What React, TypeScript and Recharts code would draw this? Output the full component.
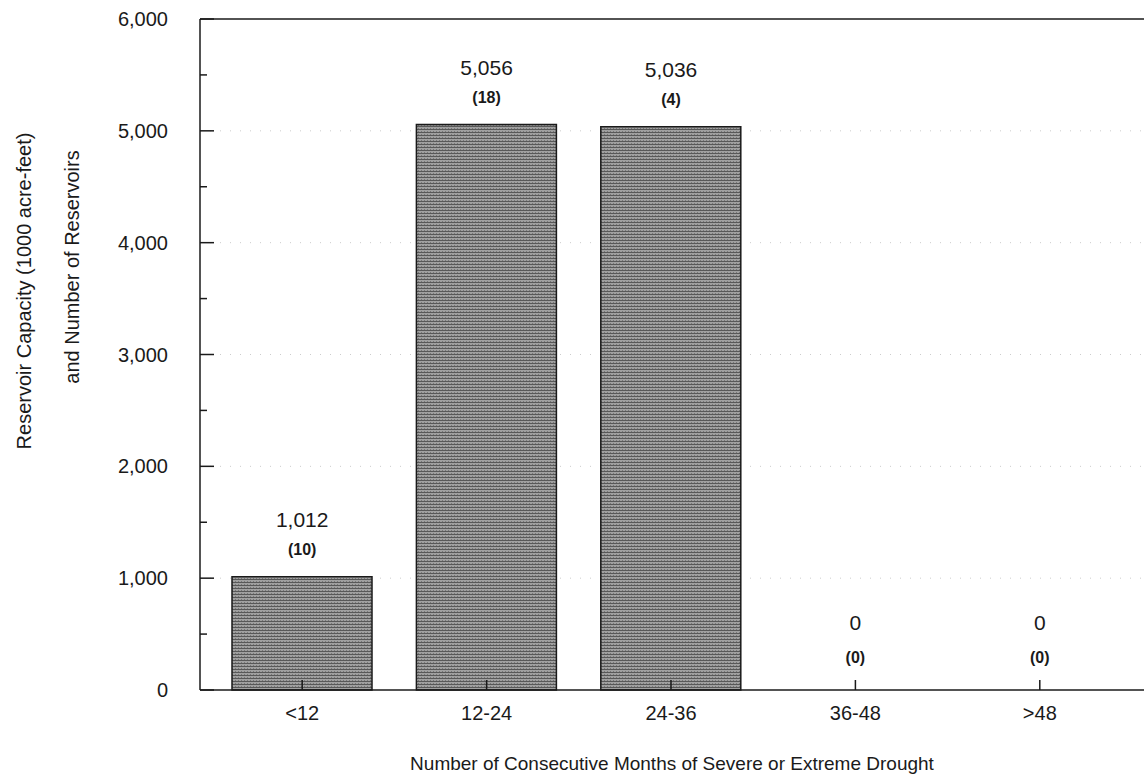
import React from 'react'
import { ComposedChart, Bar, Line, XAxis, YAxis, CartesianGrid, ReferenceLine, LabelList, Label } from 'recharts'

const categories = ['<12', '12-24', '24-36', '36-48', '>48']
const capacity = [1012, 5056, 5036, 0, 0]
const reservoirs = [10, 18, 4, 0, 0]
const yTicks = [0, 500, 1000, 1500, 2000, 2500, 3000, 3500, 4000, 4500, 5000, 5500, 6000]
const gridValues = [1000, 2000, 3000, 4000, 5000]

const data = categories.map((c, i) => ({ range: c, capacity: capacity[i], reservoirs: reservoirs[i] }))

const FONT = '"Liberation Sans", Arial, Helvetica, sans-serif'
const INK = '#1a1a1a'

const XTick = ({ x, y, payload }: any) => (
  <g>
    <line x1={x} y1={y} x2={x} y2={y - 10} stroke={INK} strokeWidth={1.5} />
    <text x={x} y={y + 30} textAnchor="middle" fontSize={20} fill={INK} fontFamily={FONT}>
      {payload.value}
    </text>
  </g>
)

const YTick = ({ x, y, payload }: any) => {
  const major = payload.value % 1000 === 0
  return (
    <g>
      <line x1={x} y1={y} x2={x + (major ? 14 : 7)} y2={y} stroke={INK} strokeWidth={1.5} />
      {major && (
        <text x={x - 32} y={y + 7} textAnchor="end" fontSize={20} fill={INK} fontFamily={FONT}>
          {payload.value.toLocaleString('en-US')}
        </text>
      )}
    </g>
  )
}

// labels hang off the line points (bar tops), so zero bars get them too
const ValueLabel = ({ x, y, value }: any) => (
  <text
    x={x}
    y={y - (value === 0 ? 67 : 57) + 7}
    textAnchor="middle"
    fontSize={21}
    fill={INK}
    fontFamily={FONT}
  >
    {Number(value).toLocaleString('en-US')}
  </text>
)

const CountLabel = ({ x, y, value, index }: any) => (
  <text
    x={x}
    y={y - (capacity[index] === 0 ? 33 : 28) + 6}
    textAnchor="middle"
    fontSize={16}
    fontWeight="bold"
    fill={INK}
    fontFamily={FONT}
  >
    ({value})
  </text>
)

const YTitle = () => (
  <g fontFamily={FONT} fontSize={20} fill={INK}>
    <text transform="translate(31, 291) rotate(-90)" textAnchor="middle">
      Reservoir Capacity (1000 acre-feet)
    </text>
    <text transform="translate(79, 267) rotate(-90)" textAnchor="middle">
      and Number of Reservoirs
    </text>
  </g>
)

export default function App() {
  return (
    <div style={{ position: 'absolute', left: 0, top: 0, fontFamily: FONT, background: '#fff' }}>
      <ComposedChart width={1144} height={776} data={data} margin={{ top: 19, right: 0, bottom: 0, left: 140 }}>
        <defs>
          <pattern id="halftone" width="3" height="3" patternUnits="userSpaceOnUse">
            <rect width="3" height="3" fill="#a0a0a0" />
            <rect width="3" height="1" fill="#585858" />
            <rect x="1" y="2" width="1" height="1" fill="#767676" />
          </pattern>
        </defs>
        <CartesianGrid
          vertical={false}
          horizontalValues={gridValues}
          stroke="#cccccc"
          strokeDasharray="1 9"
        />
        <XAxis
          dataKey="range"
          height={86}
          tickSize={0}
          tickMargin={0}
          tickLine={false}
          interval={0}
          padding={{ left: 10, right: 12 }}
          axisLine={{ stroke: INK, strokeWidth: 1.5 }}
          tick={<XTick />}
        >
          <Label
            value="Number of Consecutive Months of Severe or Extreme Drought"
            position="insideBottom"
            offset={6}
            fontSize={19}
            fill={INK}
            fontFamily={FONT}
          />
        </XAxis>
        <YAxis
          width={60}
          domain={[0, 6000]}
          ticks={yTicks}
          interval={0}
          tickSize={0}
          tickMargin={0}
          tickLine={false}
          axisLine={{ stroke: INK, strokeWidth: 1.5 }}
          tick={<YTick />}
          label={{ content: <YTitle /> }}
        />
        <ReferenceLine y={6000} stroke={INK} strokeWidth={1.5} />
        <Bar
          dataKey="capacity"
          barSize={140}
          fill="url(#halftone)"
          stroke={INK}
          strokeWidth={1.5}
          isAnimationActive={false}
        />
        <Line
          dataKey="capacity"
          stroke="none"
          dot={false}
          activeDot={false}
          legendType="none"
          isAnimationActive={false}
        >
          <LabelList dataKey="capacity" content={<ValueLabel />} />
          <LabelList dataKey="reservoirs" content={<CountLabel />} />
        </Line>
      </ComposedChart>
    </div>
  )
}
